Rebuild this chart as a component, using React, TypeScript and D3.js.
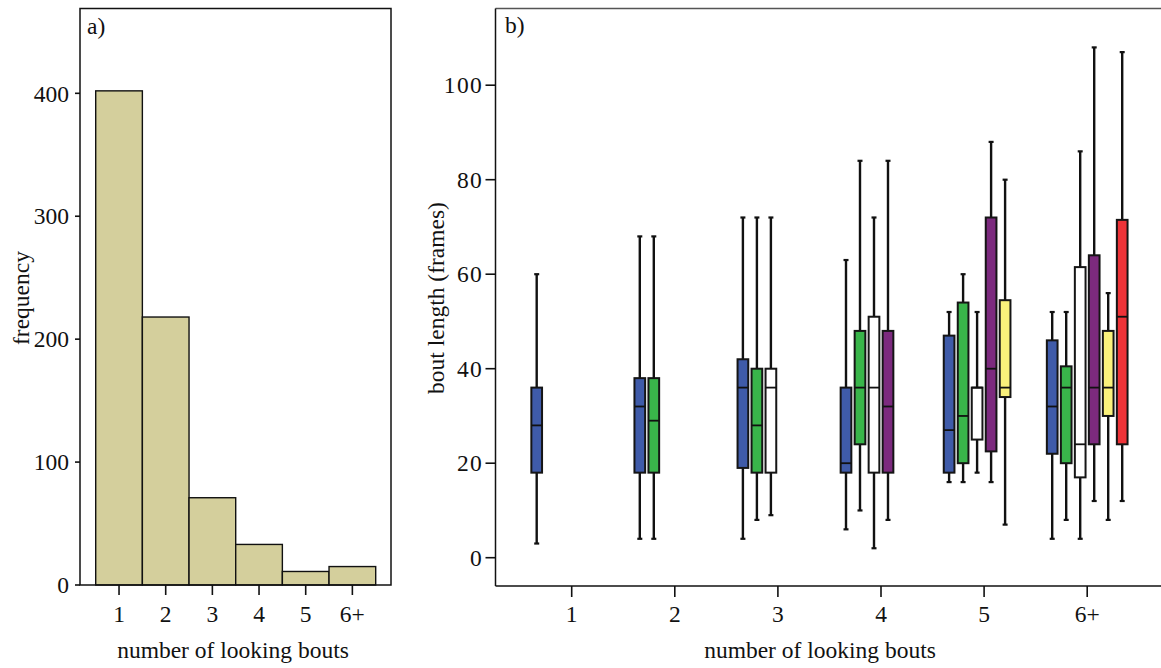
import React from "react";
import * as d3 from "d3";

// ---------- Data ----------
const boutCategories = ["1", "2", "3", "4", "5", "6+"];
const frequencies = [402, 218, 71, 33, 11, 15];
const freqTicks = [0, 100, 200, 300, 400];

const groups = ["1", "2", "3", "4", "5", "6+"];
const boutColors = ["#3F5BA9", "#39B54A", "#FFFFFF", "#7C2A7E", "#F9F17B", "#EE3338"];
// per group, per bout index
const whiskerLow = [[3], [4, 4], [4, 8, 9], [6, 10, 2, 8], [16, 16, 18, 16, 7], [4, 8, 4, 12, 8, 12]];
const q1 = [[18], [18, 18], [19, 18, 18], [18, 24, 18, 18], [18, 20, 25, 22.5, 34], [22, 20, 17, 24, 30, 24]];
const medians = [[28], [32, 29], [36, 28, 36], [20, 36, 36, 32], [27, 30, 36, 40, 36], [32, 36, 24, 36, 36, 51]];
const q3 = [[36], [38, 38], [42, 40, 40], [36, 48, 51, 48], [47, 54, 36, 72, 54.5], [46, 40.5, 61.5, 64, 48, 71.5]];
const whiskerHigh = [[60], [68, 68], [72, 72, 72], [63, 84, 72, 84], [52, 60, 52, 88, 80], [52, 52, 86, 108, 56, 107]];
const lengthTicks = [0, 20, 40, 60, 80, 100];

const FONT = "'Liberation Serif', 'Times New Roman', serif";
const FS = 23.5;

export default function App() {
  // ---------- Panel a ----------
  const aLeft = 80, aRight = 391, aTop = 8.5, aBottom = 585;
  const ya = d3.scaleLinear().domain([0, 469]).range([aBottom, aTop]);
  const xa = d3.scaleBand().domain(boutCategories).range([95.7, 375.7]).paddingInner(0);

  // ---------- Panel b ----------
  const bLeft = 495.5, bRight = 1166, bTop = 8.5, bBottom = 586;
  const yb = d3.scaleLinear().domain([0, 100]).range([557.7, 85.2]);
  const xb = d3.scaleBand().domain(groups).range([520.15, 1138.75]).paddingInner(0);
  const slot = d3.scaleBand<number>().domain(d3.range(6)).range([-42, 42]).paddingInner(0);
  const boxW = 10.7;

  return (
    <svg
      width={1161}
      height={668}
      style={{ position: "absolute", left: 0, top: 0, background: "#fff" }}
      fontFamily={FONT}
    >
      <rect x={0} y={0} width={1161} height={668} fill="#fff" />
      {/* ===== Panel a ===== */}
      <g>
        {frequencies.map((f, i) => (
          <rect
            key={i}
            x={xa(boutCategories[i])!}
            y={ya(f)}
            width={xa.bandwidth()}
            height={ya(0) - ya(f)}
            fill="#D4CF9C"
            stroke="#111"
            strokeWidth={1.4}
          />
        ))}
        <rect x={aLeft} y={aTop} width={aRight - aLeft} height={aBottom - aTop} fill="none" stroke="#111" strokeWidth={1.5} />
        {freqTicks.map((t) => (
          <g key={t}>
            <line x1={aLeft - 5} x2={aLeft} y1={ya(t)} y2={ya(t)} stroke="#111" strokeWidth={1.6} />
            <text x={69} y={ya(t)} dy="0.35em" textAnchor="end" fontSize={FS} fill="#111">
              {t}
            </text>
          </g>
        ))}
        {boutCategories.map((c) => {
          const cx = xa(c)! + xa.bandwidth() / 2;
          return (
            <g key={c}>
              <line x1={cx} x2={cx} y1={aBottom} y2={aBottom + 10} stroke="#111" strokeWidth={1.6} />
              <text x={cx} y={622} textAnchor="middle" fontSize={FS} fill="#111">
                {c}
              </text>
            </g>
          );
        })}
        <text x={233} y={658} textAnchor="middle" fontSize={FS} fill="#111">
          number of looking bouts
        </text>
        <text
          transform={`translate(29,298) rotate(-90)`}
          textAnchor="middle"
          fontSize={FS}
          fill="#111"
        >
          frequency
        </text>
        <text x={87} y={34} fontSize={FS} fill="#111">
          a)
        </text>
      </g>

      {/* ===== Panel b ===== */}
      <g>
        {groups.map((g, gi) => {
          const center = xb(g)! + xb.bandwidth() / 2;
          return (
            <g key={g}>
              {medians[gi].map((m, bi) => {
                const cx = center + slot(bi)! + slot.bandwidth() / 2;
                return (
                  <g key={bi}>
                    <line x1={cx} x2={cx} y1={yb(whiskerLow[gi][bi])} y2={yb(whiskerHigh[gi][bi])} stroke="#111" strokeWidth={2.4} />
                    <line x1={cx - 2.5} x2={cx + 2.5} y1={yb(whiskerLow[gi][bi])} y2={yb(whiskerLow[gi][bi])} stroke="#111" strokeWidth={2.2} />
                    <line x1={cx - 2.5} x2={cx + 2.5} y1={yb(whiskerHigh[gi][bi])} y2={yb(whiskerHigh[gi][bi])} stroke="#111" strokeWidth={2.2} />
                    <rect
                      x={cx - boxW / 2}
                      y={yb(q3[gi][bi])}
                      width={boxW}
                      height={yb(q1[gi][bi]) - yb(q3[gi][bi])}
                      fill={boutColors[bi]}
                      stroke="#151515"
                      strokeWidth={2}
                    />
                    <line x1={cx - boxW / 2} x2={cx + boxW / 2} y1={yb(m)} y2={yb(m)} stroke="#111" strokeWidth={1.8} />
                  </g>
                );
              })}
            </g>
          );
        })}
        <line x1={bLeft} x2={bRight} y1={bTop} y2={bTop} stroke="#555" strokeWidth={1.5} />
        <line x1={bLeft} x2={bLeft} y1={bTop} y2={bBottom} stroke="#111" strokeWidth={1.5} />
        <line x1={bLeft} x2={bRight} y1={bBottom} y2={bBottom} stroke="#111" strokeWidth={1.5} />
        {lengthTicks.map((t) => (
          <g key={t}>
            <line x1={bLeft - 10} x2={bLeft} y1={yb(t)} y2={yb(t)} stroke="#111" strokeWidth={1.6} />
            <text x={483} y={yb(t)} dy="0.35em" textAnchor="end" fontSize={FS} letterSpacing={1.3} fill="#111">
              {t}
            </text>
          </g>
        ))}
        {groups.map((g) => {
          const cx = xb(g)! + xb.bandwidth() / 2;
          return (
            <g key={g}>
              <line x1={cx} x2={cx} y1={bBottom} y2={bBottom + 11} stroke="#111" strokeWidth={1.6} />
              <text x={cx} y={622} textAnchor="middle" fontSize={FS} fill="#111">
                {g}
              </text>
            </g>
          );
        })}
        <text x={820} y={658} textAnchor="middle" fontSize={FS} fill="#111">
          number of looking bouts
        </text>
        <text
          transform={`translate(444,298) rotate(-90)`}
          textAnchor="middle"
          fontSize={FS}
          fill="#111"
        >
          bout length (frames)
        </text>
        <text x={505} y={33} fontSize={FS} fill="#111">
          b)
        </text>
      </g>
    </svg>
  );
}
